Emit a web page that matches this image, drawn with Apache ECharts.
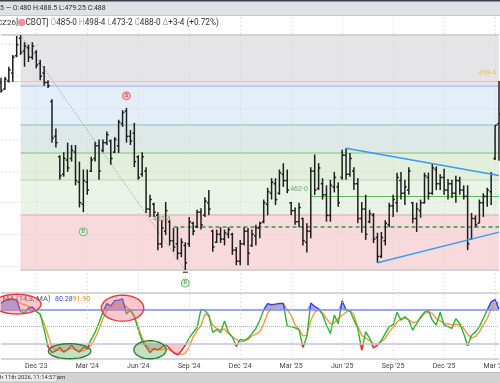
<!DOCTYPE html>
<html>
<head>
<meta charset="utf-8">
<script src="https://cdn.jsdelivr.net/npm/echarts@6.0.0/dist/echarts.min.js"></script>
<style>
html,body{margin:0;padding:0;background:#ffffff;}
#chart{width:500px;height:383px;}
</style>
</head>
<body>
<div id="chart"></div>
<script>
// ---------------- data ----------------
const startDate = '2023-09-29'; // first weekly bar
const opens = [
 498,496,498.5,501,506.5,512,508,509,506,507.5,
 504,501,498,492,481,474.5,469,473.5,474,476,
 466.5,459.5,466.5,470,474,478,476.5,479,479.5,476,
 478,485,489,481,482,474.5,469,470,458,459.5,
 456,447,451,454,448,447,444,446.5,447,453.5,
 452.5,457,456,460,451,447.5,450,448.5,450,450,
 445,441.5,447,451,446.5,449.5,452,454,459.5,463,
 466,463,469,467,460,457.5,454,455,447.5,451,
 470,464.5,466,462.5,456,465,465,468,475,469,
 470,466,455,458,454,456,449,443,448,453,
 459,460,467,463,464,460,455,457.5,460,468,
 463,470.5,466,468,464,466,463,467,464,462,
 448.5,455,453.5,460,462,463.5,474,485];
const highs = [
 499.5,499.75,503,506.75,512.75,513,510.75,510,510.75,508.25,
 505.25,503.25,498.75,492.75,483.5,475,476,479,478.25,478.25,
 473,470.5,470.5,474.5,479.25,480,480,482.5,480,480.75,
 486.25,489.25,490,483,485.25,475,476,471.25,462.5,460,
 457,454.5,460.25,454.5,452,452.25,448.75,447.5,455.5,454,
 457.75,458.25,461.75,464,451.5,451.5,452.25,451.5,452.25,450.5,
 446,448.25,452.25,452,451.5,453,454,461,464.75,467.75,
 467.75,470.5,472.5,470.5,460.25,458.5,460,455.25,453.5,471.25,
 475.25,472.5,467.75,465.5,467.25,469.75,466.5,476.75,477.25,475.75,
 471.25,467.75,460.25,462.5,457.75,456.75,450.5,450.75,454.5,460,
 462.5,469.5,469.75,467.25,471.25,460.25,460,461,469.5,469.5,
 472.25,471.5,469,470.75,467.5,467.25,468.5,468.25,465.5,465.5,
 456.75,456,461,463,464.75,469.75,484.5,498.5];
const lows = [
 494.75,495.75,498,498.25,506,506.75,503,504.5,505.25,502.5,
 498.75,497,496.25,479,477.5,467.25,468.25,469.75,473,465.5,
 458.5,457,462.5,469.75,473,467.25,476,478.25,472,475.75,
 475.75,484,479,478.25,471.25,467.25,468.25,456.75,455.5,455.5,
 445,445.75,449.75,446.5,444.5,442,442.75,438.75,446,449.75,
 452,451.5,455.5,456,444.5,447.25,447.25,446.5,448.75,443.5,
 440.25,440.25,446.5,440.25,446,446.5,448.75,453.5,456,461,
 459.25,462.5,465,463,456,453,452.25,446.5,444.25,448.75,
 462.5,464,461,454,454,463.25,458.75,467.25,467.25,468.25,
 464,453.5,450.5,448.25,453.5,447.25,441,442.5,446.5,452.25,
 455.5,457,461,459.25,462.5,453.5,450.75,455.25,459.75,461,
 462.5,464,464,462.5,461,461.5,460,462.5,461,445,
 448.25,452.25,453.5,455.5,458.75,459.25,473.5,473.25];
const closes = [
 495.5,499,502,506,510,507.5,509.5,506,509.5,503.5,
 500,498,497,480.5,479,468.5,474,471,476.5,467,
 460,467,464,473.5,478,470,479,481.5,474,480,
 485.5,488.5,481,479.5,473,468,474.5,458,461,457,
 447,452,457.5,448,446,444,447.5,441,454,451,
 457,453,460.5,458,446,450,448.5,450.5,451.5,445,
 441.5,447,451,444,450,452,453.5,460,463.5,466.5,
 461,469.5,467,464,457.5,454,458.5,448,451,470,
 464,471,462.5,456,465.5,468,460,475,469,474,
 466,455,458,450,456.5,448.5,443,449,453.5,459,
 461,468,463,465,470,455,458,460,468.5,463,
 471,466,468,464,466,463,467,464,462,447,
 455,453,460,462,464,469,484.5,488];
const stochK = [
 90,95,97,98,96,76,74,82,84,76,
 72,45,15,5,8,14,6,10,18,10,
 6,14,12,28,40,57,75,90,86,95,
 96,98,72,80,68,45,25,15,5,12,
 10,14,19,12,5,1,8,18,30,40,
 48,80,78,70,40,45,40,60,40,32,
 16,28,26,30,38,47,61,79,90,88,
 89,90,90,51,50,48,45,14,33,91,
 85,81,71,53,38,70,55,95,79,77,
 62,47,9,41,30,13,18,26,38,50,
 53,75,61,67,61,44,55,67,75,78,
 61,53,75,53,50,47,64,55,38,17,
 35,41,50,64,79,93,97,80.28];
const stochD = [
 92,95,98,97,95,90,88,85,82,77,
 70,55,35,15,10,9,7,10,13,10,
 8,8,12,18,30,46,64,78,85,87,
 89,90,85,77,68,50,30,18,12,10,
 10,10,12,10,6,3,2,4,15,32,
 43,52,72,68,52,47,44,46,38,32,
 28,24,25,28,34,37,41,55,73,83,
 88,90,90,79,70,53,45,34,35,61,
 75,79,74,64,55,57,64,70,75,78,
 70,50,35,30,26,21,20,24,30,41,
 49,58,64,65,62,57,58,64,73,75,
 73,64,60,55,55,53,54,53,47,37,
 30,33,41,53,64,81,90,91.9];
const tickDates = ['2023-12-01','2024-03-01','2024-06-01','2024-09-01','2024-12-01','2025-03-01','2025-06-01','2025-09-01','2025-12-01','2026-03-01'];
const tickLabels = ["Dec '23","Mar '24","Jun '24","Sep '24","Dec '24","Mar '25","Jun '25","Sep '25","Dec '25","Mar '26"];
const fibRatios = [0, 0.236, 0.382, 0.5, 0.618, 0.786, 1];
const gridPrices = [440, 450, 460, 470, 480, 490, 500, 510];
const stochLevels = [80, 50, 20];
const lastHigh = 498.5;
const supportLevel = 452.5, supportStartIdx = 44;
const pivotLevel = 462, pivotStartIdx = 79;
const levelLabels = ['452-4', '462-0', '498-4'];
const levelLabelIdx = [41, 76, 127];
const levelLabelPrice = [452.5, 462, 498.5];
const signalText = ['S', 'B', 'R'];
const signalIdx = [32, 21, 47];
const signalPrice = [493.8, 450.8, 434.6];
const trendUpper = [[88, 477.25], [127, 468.6]];
const trendLower = [[96, 441], [127, 450.7]];
const ellipseIdx = [4.1, 31, 17.5, 38];
const ellipseVal = [89, 82, 7.5, 10];
const ellipseRIdx = [6.1, 5.4, 5.4, 4.1];
const ellipseRVal = [17, 22.5, 13, 15.6];
const ellipseKind = ['red', 'red', 'green', 'green'];
const stochTitle = 'MA (14,3, MA)';
const stochLast = ['80.28', '91.90'];
const headerTop = '5 \u2014 O:480 H:488.5 L:479.25 C:488';
const footerText = 'h 11th 2026, 11:14:57 am';

// ---------------- derived helpers ----------------
const n = highs.length;
const WEEK = 7 * 86400000;
const t0 = Date.parse(startDate + 'T00:00:00Z');
const categories = [];
for (let i = 0; i < n; i++) categories.push(new Date(t0 + i * WEEK).toISOString().slice(0, 10));
const tickIdx = tickDates.map(d => Math.round((Date.parse(d + 'T00:00:00Z') - t0) / WEEK));
const tickMap = {};
tickIdx.forEach((k, j) => { tickMap[k] = tickLabels[j]; });

const hiVal = Math.max(...highs), loVal = Math.min(...lows);
const hiIdx = highs.indexOf(hiVal), loIdx = lows.indexOf(loVal);
const fibVals = fibRatios.map(r => loVal + r * (hiVal - loVal));
const zoneColors = ['#f8dadd', '#e9f3e6', '#e1efdc', '#dde9e6', '#e3eef9', '#e5e5e7'];
const fibLineColors = ['#cdc3cc', '#ebb8be', '#c8e0c2', '#a2ce9b', '#a9cdca', '#abc9e8', '#c6c6ca'];
const FONT = 'Roboto, "Noto Sans", sans-serif';

const dotted = {color: '#d2d2d2', type: [1, 3], width: 1};

const zoneAreas = zoneColors.map((col, j) => [
  {xAxis: hiIdx, yAxis: fibVals[j], itemStyle: {color: col}},
  {xAxis: n - 1, yAxis: fibVals[j + 1]}
]);

const ml0 = [];
gridPrices.forEach(p => ml0.push({yAxis: p, lineStyle: dotted}));
tickIdx.forEach(k => ml0.push({xAxis: k, lineStyle: dotted}));
fibVals.forEach((v, j) => {
  const ls = {color: fibLineColors[j], width: 1.5, type: 'solid'};
  if (j === fibVals.length - 1) ml0.push({yAxis: v, lineStyle: ls});
  else ml0.push([{coord: [hiIdx, v], lineStyle: ls}, {coord: [n - 1, v]}]);
});
ml0.push({yAxis: lastHigh, lineStyle: {color: '#f3c68a', width: 1.2, type: 'solid'}});
ml0.push([{coord: [hiIdx, hiVal], lineStyle: {color: '#a9a9a9', type: 'dotted', width: 1}}, {coord: [loIdx, loVal]}]);
ml0.push([{coord: [supportStartIdx, supportLevel], lineStyle: {color: '#2e9a3c', type: [4, 3], width: 1.5}}, {coord: [n - 1, supportLevel]}]);
ml0.push([{coord: [pivotStartIdx, pivotLevel], lineStyle: {color: '#5bb85d', type: 'solid', width: 1.2}}, {coord: [n - 1, pivotLevel]}]);

const ml1 = [
  {yAxis: 109.4, lineStyle: {color: '#c9c9c9', width: 1.5, type: 'solid'}},
  {yAxis: -5.4, lineStyle: {color: '#c9c9c9', width: 1.5, type: 'solid'}},
  {yAxis: stochLevels[0], lineStyle: {color: '#7e88e4', width: 1.5, type: 'solid'}},
  {yAxis: stochLevels[1], lineStyle: {color: '#a9a9d2', width: 1, type: 'dotted'}},
  {yAxis: stochLevels[2], lineStyle: {color: '#c2c2dc', width: 1.5, type: 'solid'}}
];
tickIdx.forEach(k => ml1.push({xAxis: k, lineStyle: dotted}));

function renderOHLC(params, api) {
  const i = api.value(0);
  const o = api.coord([i, api.value(1)]);
  const h = api.coord([i, api.value(2)]);
  const l = api.coord([i, api.value(3)]);
  const c = api.coord([i, api.value(4)]);
  const st = {stroke: '#1e1e1e', lineWidth: 1.5};
  return {type: 'group', children: [
    {type: 'line', shape: {x1: h[0], y1: h[1], x2: l[0], y2: l[1]}, style: st},
    {type: 'line', shape: {x1: o[0] - 1.8, y1: o[1], x2: o[0], y2: o[1]}, style: st},
    {type: 'line', shape: {x1: c[0], y1: c[1], x2: c[0] + 1.8, y2: c[1]}, style: st}
  ]};
}

const series = [];
// price panel
series.push({
  type: 'line', name: 'zones', xAxisIndex: 0, yAxisIndex: 0, z: 1, silent: true,
  data: closes.map((v, i) => [i, v]), symbol: 'none', lineStyle: {opacity: 0},
  markArea: {silent: true, data: zoneAreas},
  markLine: {silent: true, symbol: ['none', 'none'], label: {show: false}, data: ml0}
});
series.push({
  type: 'custom', name: 'ohlc', xAxisIndex: 0, yAxisIndex: 0, z: 10, silent: true,
  renderItem: renderOHLC, encode: {x: 0, y: [1, 2, 3, 4]},
  data: highs.map((h, i) => [i, opens[i], h, lows[i], closes[i]])
});
[trendUpper, trendLower].forEach(tr => series.push({
  type: 'line', xAxisIndex: 0, yAxisIndex: 0, z: 12, silent: true, symbol: 'none',
  data: tr, lineStyle: {color: '#3a9bef', width: 1.5}
}));
series.push({
  type: 'scatter', xAxisIndex: 0, yAxisIndex: 0, z: 14, silent: true, symbolSize: 0,
  data: levelLabels.map((t, j) => ({
    value: [levelLabelIdx[j], levelLabelPrice[j]],
    label: {show: true, formatter: t, fontFamily: FONT, fontSize: 7,
      color: j === 2 ? '#f4a93c' : '#3aa346',
      position: j === 2 ? 'left' : 'inside', distance: 3,
      offset: j === 2 ? [0, -8] : [0, -7]}
  }))
});
series.push({
  type: 'scatter', xAxisIndex: 0, yAxisIndex: 0, z: 14, silent: true,
  data: signalText.map((t, j) => ({
    value: [signalIdx[j], signalPrice[j]],
    symbol: 'circle', symbolSize: 8,
    itemStyle: t === 'S' ? {color: '#f6b3ba', borderColor: '#e0505c', borderWidth: 1}
                          : {color: '#eaf5e8', borderColor: '#48a84e', borderWidth: 1},
    label: {show: true, position: 'inside', formatter: t, fontFamily: FONT, fontSize: 5.5,
      fontWeight: 'bold', color: t === 'S' ? '#d8303c' : '#3a9a40'}
  }))
});
series.push({
  type: 'scatter', xAxisIndex: 0, yAxisIndex: 0, z: 14, silent: true,
  data: [[loIdx, loVal - 0.75]], symbol: 'rect', symbolSize: [5, 1.5],
  itemStyle: {color: '#333'}
});

// stochastic panel
series.push({
  type: 'line', name: 'obBase', xAxisIndex: 1, yAxisIndex: 1, z: 2, silent: true, stack: 'ob',
  data: stochK.map((v, i) => [i, stochLevels[0]]), symbol: 'none', lineStyle: {opacity: 0},
  markLine: {silent: true, symbol: ['none', 'none'], label: {show: false}, data: ml1}
});
series.push({
  type: 'line', name: 'obFill', xAxisIndex: 1, yAxisIndex: 1, z: 2, silent: true, stack: 'ob',
  data: stochK.map((v, i) => [i, Math.max(v - stochLevels[0], 0)]), symbol: 'none',
  lineStyle: {opacity: 0}, areaStyle: {color: 'rgba(70,90,232,0.72)'}
});
series.push({
  type: 'line', name: 'osBase', xAxisIndex: 1, yAxisIndex: 1, z: 2, silent: true, stack: 'os',
  data: stochK.map((v, i) => [i, Math.min(v, stochLevels[2])]), symbol: 'none', lineStyle: {opacity: 0}
});
series.push({
  type: 'line', name: 'osFill', xAxisIndex: 1, yAxisIndex: 1, z: 2, silent: true, stack: 'os',
  data: stochK.map((v, i) => [i, stochLevels[2] - Math.min(v, stochLevels[2])]), symbol: 'none',
  lineStyle: {opacity: 0}, areaStyle: {color: 'rgba(240,95,108,0.5)'}
});
series.push({
  type: 'line', name: '%D', xAxisIndex: 1, yAxisIndex: 1, z: 3, silent: true,
  data: stochD.map((v, i) => [i, v]), symbol: 'none', lineStyle: {color: '#f59a3e', width: 1.4}
});
const kIndex = series.length;
series.push({
  type: 'line', name: '%K', xAxisIndex: 1, yAxisIndex: 1, z: 4, silent: true,
  data: stochK.map((v, i) => [i, v]), symbol: 'none', lineStyle: {width: 1.4}
});

const option = {
  animation: false,
  backgroundColor: '#ffffff',
  grid: [
    {left: 1, right: 1, top: 16, bottom: 93, outerBoundsMode: 'none', containLabel: false},
    {left: 1, right: 1, top: 292, bottom: 24, outerBoundsMode: 'none', containLabel: false}
  ],
  xAxis: [
    {type: 'category', gridIndex: 0, data: categories, boundaryGap: false,
     axisLine: {show: false}, axisTick: {show: false}, axisLabel: {show: false}, splitLine: {show: false}},
    {type: 'category', gridIndex: 1, data: categories, boundaryGap: false,
     axisLine: {show: false}, axisTick: {show: false}, splitLine: {show: false},
     axisLabel: {show: true, interval: (idx) => tickMap[idx] !== undefined,
       formatter: (val, idx) => tickMap[idx] || '', margin: 4,
       color: '#444', fontSize: 7, fontFamily: FONT}}
  ],
  yAxis: [
    {type: 'value', gridIndex: 0, min: 432.4, max: 519.05, show: false, splitLine: {show: false}},
    {type: 'value', gridIndex: 1, min: -6, max: 110, show: false, splitLine: {show: false}}
  ],
  visualMap: [{
    type: 'piecewise', show: false, seriesIndex: kIndex, dimension: 1,
    pieces: [
      {lt: stochLevels[2], color: '#e52530'},
      {gte: stochLevels[2], lte: stochLevels[0], color: '#2fb234'},
      {gt: stochLevels[0], color: '#3344e0'}
    ]
  }],
  series: series
};

const chart = echarts.init(document.getElementById('chart'), null, {renderer: 'canvas', width: 500, height: 383});
chart.setOption(option);

// ---------------- overlays (header, footer, annotations) ----------------
const g = [];
g.push({type: 'rect', z: 100, shape: {x: 0, y: 0, width: 500, height: 15.5}, style: {fill: '#dfe1e4'}});
g.push({type: 'rect', z: 101, shape: {x: 0, y: 0, width: 500, height: 1.5}, style: {fill: '#3a3f47'}});
g.push({type: 'rect', z: 101, shape: {x: 0, y: 15, width: 500, height: 1}, style: {fill: '#c6c8cc'}});
g.push({type: 'text', z: 102, x: 0, y: 8.5,
  style: {text: headerTop, fill: '#2d2d2d', fontSize: 7, fontFamily: FONT, verticalAlign: 'middle', align: 'left'}});
g.push({type: 'text', z: 102, x: 18, y: 23,
  style: {text: 'CZ26]', fill: '#333', fontSize: 8, fontFamily: FONT, verticalAlign: 'middle', align: 'right'}});
g.push({type: 'circle', z: 102, shape: {cx: 21.8, cy: 22.5, r: 3.7}, style: {fill: '#f0909a'}});
g.push({type: 'text', z: 102, x: 25.5, y: 23,
  style: {
    text: '{d|CBOT]} {g|O}{d|485-0} {g|H}{d|498-4} {g|L}{d|473-2} {g|C}{d|488-0} {g|\u0394}{d|+3-4 (+0.72%)}',
    verticalAlign: 'middle', align: 'left', fontSize: 8.2, fontFamily: FONT,
    rich: {d: {fill: '#333', fontSize: 8.2, fontFamily: FONT}, g: {fill: '#aaaaaa', fontSize: 8.2, fontFamily: FONT}}
  }});
// footer
g.push({type: 'rect', z: 100, shape: {x: 0, y: 372, width: 500, height: 11}, style: {fill: '#d3d3d3'}});
g.push({type: 'rect', z: 101, shape: {x: 0, y: 372, width: 500, height: 1}, style: {fill: '#b8b8b8'}});
g.push({type: 'rect', z: 101, shape: {x: -1, y: 373.5, width: 58, height: 8.5}, style: {fill: '#ececec', stroke: '#b5b5b5', lineWidth: 0.8}});
g.push({type: 'text', z: 102, x: 0, y: 378,
  style: {text: footerText, fill: '#333', fontSize: 5.8, fontFamily: FONT, verticalAlign: 'middle', align: 'left'}});
// stochastic header
g.push({type: 'text', z: 100, x: 2.5, y: 299.5,
  style: {text: stochTitle, fill: '#555', fontSize: 7.6, fontFamily: FONT, verticalAlign: 'middle', align: 'left'}});
g.push({type: 'text', z: 100, x: 55, y: 299.5,
  style: {text: stochLast[0], fill: '#3b4fd4', fontSize: 7, fontFamily: FONT, verticalAlign: 'middle', align: 'left'}});
g.push({type: 'text', z: 100, x: 72.5, y: 299.5,
  style: {text: stochLast[1], fill: '#f08a24', fontSize: 7, fontFamily: FONT, verticalAlign: 'middle', align: 'left'}});

// ellipse annotations, placed from data coordinates of the stochastic panel
const p0 = chart.convertToPixel({gridIndex: 1}, [0, 0]);
const p1 = chart.convertToPixel({gridIndex: 1}, [1, 0]);
const pv = chart.convertToPixel({gridIndex: 1}, [0, 1]);
const dx = p1[0] - p0[0];
const dy = pv[1] - p0[1];
ellipseIdx.forEach((ci, j) => {
  const pts = [];
  for (let k = 0; k < 64; k++) {
    const a = 2 * Math.PI * k / 64;
    pts.push([p0[0] + (ci + ellipseRIdx[j] * Math.cos(a)) * dx,
              p0[1] + (ellipseVal[j] + ellipseRVal[j] * Math.sin(a)) * dy]);
  }
  const red = ellipseKind[j] === 'red';
  g.push({type: 'polygon', z: 105, shape: {points: pts},
    style: {fill: red ? 'rgba(240,110,120,0.38)' : 'rgba(95,175,95,0.38)',
            stroke: red ? '#e23a46' : '#2f7d32', lineWidth: 1.4}});
});

chart.setOption({graphic: g});
</script>
</body>
</html>
